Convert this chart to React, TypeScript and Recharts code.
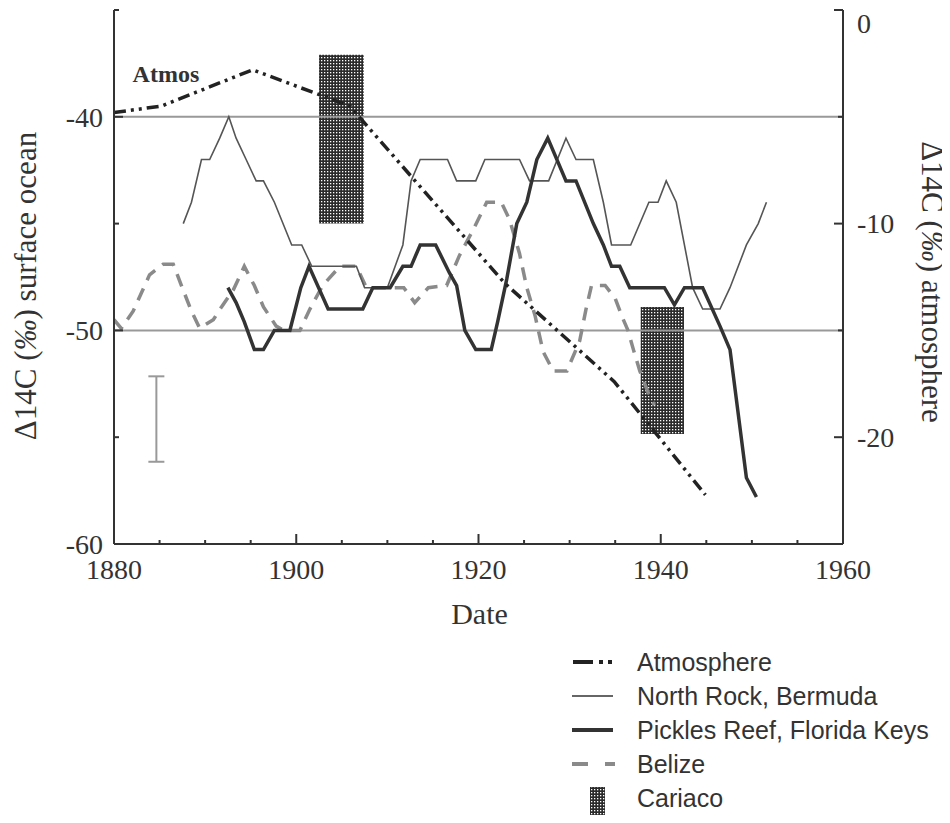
import React from 'react'
import {
  ComposedChart,
  Line,
  XAxis,
  YAxis,
  ReferenceArea,
  ReferenceLine,
  ReferenceDot,
  Scatter,
  ErrorBar,
} from 'recharts'

// atmosphere, plotted on the right axis (‰ atmosphere)
const atmosphere = [
  { year: 1880, v: -4.8 },
  { year: 1885.2, v: -4.5 },
  { year: 1895.2, v: -2.8 },
  { year: 1905.9, v: -4.5 },
  { year: 1907.1, v: -5.1 },
  { year: 1922.9, v: -12.8 },
  { year: 1934.9, v: -17.4 },
  { year: 1944.9, v: -22.7 },
]

const northRock = [
  { year: 1887.6, v: -45 }, { year: 1888.5, v: -44 }, { year: 1889.6, v: -42 },
  { year: 1890.5, v: -42 }, { year: 1891.6, v: -41 }, { year: 1892.6, v: -40 },
  { year: 1893.4, v: -41 }, { year: 1894.5, v: -42 }, { year: 1895.6, v: -43 },
  { year: 1896.4, v: -43 }, { year: 1897.6, v: -44 }, { year: 1899.5, v: -46 },
  { year: 1900.6, v: -46 }, { year: 1901.7, v: -47 }, { year: 1906.6, v: -47 },
  { year: 1907.5, v: -48 }, { year: 1910.0, v: -48 }, { year: 1911.7, v: -46 },
  { year: 1912.6, v: -43 }, { year: 1913.6, v: -42 }, { year: 1916.6, v: -42 },
  { year: 1917.6, v: -43 }, { year: 1919.7, v: -43 }, { year: 1920.7, v: -42 },
  { year: 1924.5, v: -42 }, { year: 1925.6, v: -43 }, { year: 1927.7, v: -43 },
  { year: 1929.6, v: -41 }, { year: 1930.7, v: -42 }, { year: 1932.6, v: -42 },
  { year: 1933.7, v: -44 }, { year: 1934.6, v: -46 }, { year: 1936.7, v: -46 },
  { year: 1938.7, v: -44 }, { year: 1939.7, v: -44 }, { year: 1940.6, v: -43 },
  { year: 1941.7, v: -44 }, { year: 1943.5, v: -48 }, { year: 1944.6, v: -49 },
  { year: 1946.5, v: -49 }, { year: 1947.6, v: -48 }, { year: 1949.4, v: -46 },
  { year: 1950.7, v: -45 }, { year: 1951.6, v: -44 },
]

const picklesReef = [
  { year: 1892.5, v: -48 }, { year: 1893.4, v: -48.7 }, { year: 1894.3, v: -49.6 },
  { year: 1895.4, v: -50.9 }, { year: 1896.4, v: -50.9 }, { year: 1897.6, v: -50 },
  { year: 1899.3, v: -50 }, { year: 1900.5, v: -48 }, { year: 1901.4, v: -47 },
  { year: 1903.5, v: -49 }, { year: 1907.3, v: -49 }, { year: 1908.4, v: -48 },
  { year: 1910.3, v: -48 }, { year: 1911.7, v: -47 }, { year: 1912.6, v: -47 },
  { year: 1913.6, v: -46 }, { year: 1915.3, v: -46 }, { year: 1916.8, v: -47.3 },
  { year: 1917.6, v: -47.9 }, { year: 1918.5, v: -50 }, { year: 1919.7, v: -50.9 },
  { year: 1921.4, v: -50.9 }, { year: 1922.1, v: -49.6 }, { year: 1923.1, v: -47.6 },
  { year: 1924.2, v: -45 }, { year: 1925.3, v: -44 }, { year: 1926.4, v: -42 },
  { year: 1927.6, v: -41 }, { year: 1929.6, v: -43 }, { year: 1930.7, v: -43 },
  { year: 1932.6, v: -45 }, { year: 1933.7, v: -46 }, { year: 1934.6, v: -47 },
  { year: 1935.5, v: -47 }, { year: 1936.6, v: -48 }, { year: 1940.4, v: -48 },
  { year: 1941.5, v: -48.8 }, { year: 1942.6, v: -48 }, { year: 1944.6, v: -48 },
  { year: 1946.5, v: -49.8 }, { year: 1947.6, v: -50.9 }, { year: 1949.4, v: -56.9 },
  { year: 1950.5, v: -57.8 },
]

const belize = [
  { year: 1880, v: -49.5 }, { year: 1880.8, v: -49.9 }, { year: 1882.1, v: -49.1 },
  { year: 1883.9, v: -47.4 }, { year: 1885.4, v: -46.9 }, { year: 1886.5, v: -46.9 },
  { year: 1887.4, v: -47.9 }, { year: 1888.5, v: -49.1 }, { year: 1889.4, v: -49.9 },
  { year: 1890.9, v: -49.5 }, { year: 1891.8, v: -48.9 }, { year: 1893.1, v: -48.1 },
  { year: 1894.3, v: -47 }, { year: 1895.4, v: -47.9 }, { year: 1896.4, v: -48.9 },
  { year: 1897.8, v: -49.8 }, { year: 1898.6, v: -50 }, { year: 1900.4, v: -50 },
  { year: 1901.5, v: -49 }, { year: 1902.9, v: -47.9 }, { year: 1904.8, v: -47 },
  { year: 1906.6, v: -47 }, { year: 1907.7, v: -48 }, { year: 1911.8, v: -48 },
  { year: 1913.0, v: -48.7 }, { year: 1914.5, v: -48 }, { year: 1916.5, v: -47.9 },
  { year: 1917.9, v: -46.5 }, { year: 1919.4, v: -45.3 }, { year: 1920.9, v: -44 },
  { year: 1922.5, v: -44 }, { year: 1923.4, v: -44.8 }, { year: 1924.5, v: -46.4 },
  { year: 1925.3, v: -48 }, { year: 1926.2, v: -49.3 }, { year: 1927.1, v: -51 },
  { year: 1928.2, v: -51.9 }, { year: 1929.7, v: -51.9 }, { year: 1931.1, v: -50.5 },
  { year: 1931.8, v: -49 }, { year: 1932.4, v: -47.9 }, { year: 1933.9, v: -47.9 },
  { year: 1935.0, v: -48.5 }, { year: 1935.7, v: -49.3 }, { year: 1936.4, v: -50 },
  { year: 1937.0, v: -50.9 }, { year: 1937.7, v: -51.9 }, { year: 1938.6, v: -52.9 },
  { year: 1939.3, v: -53.5 },
]

// Cariaco age ranges (year span, ocean value span)
const cariaco = [
  { x1: 1902.5, x2: 1907.4, y1: -45.0, y2: -37.1 },
  { x1: 1937.8, x2: 1942.55, y1: -54.85, y2: -48.9 },
]

const errorBarData = [{ year: 1884.65, v: -54.15, err: 2.0 }]

const xTicks = [1880, 1885, 1890, 1895, 1900, 1905, 1910, 1915, 1920, 1925, 1930, 1935, 1940, 1945, 1950, 1955, 1960]
const leftTicks = [-60, -55, -50, -45, -40, -35]
const rightTicks = [-25, -20, -15, -10, -5, 0]
const gridValues = [-40, -50]

const legendItems = ['Atmosphere', 'North Rock, Bermuda', 'Pickles Reef, Florida Keys', 'Belize', 'Cariaco']

const SERIF = '"Liberation Serif", "Times New Roman", serif'
const SANS = '"Liberation Sans", Arial, sans-serif'
const AXIS = '#333'
const ATMOS_DASH = '12 5 3 5 3 5'
const TICK_FONT = 28
const TITLE_FONT = 31

function BottomTick({ x, y, payload }: any) {
  const v = payload.value
  const major = v % 20 === 0
  return (
    <g>
      <line x1={x} x2={x} y1={y} y2={y - (major ? 10 : 4)} stroke={AXIS} strokeWidth={2} />
      {major && (
        <text x={x} y={y + 35} textAnchor="middle" fontFamily={SERIF} fontSize={TICK_FONT} fill="#333">
          {v}
        </text>
      )}
    </g>
  )
}

function TopTick({ x, y, payload }: any) {
  const major = payload.value % 20 === 0
  return <line x1={x} x2={x} y1={y} y2={y + (major ? 10 : 4)} stroke={AXIS} strokeWidth={2} />
}

function LeftTick({ x, y, payload }: any) {
  const v = payload.value
  const major = v % 10 === 0
  return (
    <g>
      <line x1={x} x2={x + (major ? 9 : 5)} y1={y} y2={y} stroke={AXIS} strokeWidth={2} />
      {major && (
        <text x={x - 11} y={y} dy="0.35em" textAnchor="end" fontFamily={SERIF} fontSize={TICK_FONT} fill="#333">
          {v}
        </text>
      )}
    </g>
  )
}

function RightTick({ x, y, payload }: any) {
  const v = payload.value
  const major = v % 10 === 0
  return (
    <g>
      <line x1={x} x2={x - (major ? 9 : 5)} y1={y} y2={y} stroke={AXIS} strokeWidth={2} />
      {major && (
        <text x={x + 14} y={v === 0 ? y + 13 : y} dy="0.35em" textAnchor="start" fontFamily={SERIF} fontSize={TICK_FONT} fill="#333">
          {v}
        </text>
      )}
    </g>
  )
}

function Legend() {
  const rowY = (i: number) => 654 + i * 34
  return (
    <svg width={400} height={170} style={{ position: 'absolute', left: 540, top: 640 }} viewBox="540 640 400 170">
      <line x1={565} x2={585} y1={rowY(0)} y2={rowY(0)} stroke="#222" strokeWidth={4} />
      <rect x={591} y={rowY(0) - 2} width={4} height={4} fill="#222" />
      <rect x={600} y={rowY(0) - 2} width={4} height={4} fill="#222" />
      <line x1={564} x2={605} y1={rowY(1)} y2={rowY(1)} stroke="#666" strokeWidth={2} />
      <line x1={564} x2={605} y1={rowY(2)} y2={rowY(2)} stroke="#333" strokeWidth={4} />
      <line x1={564} x2={580} y1={rowY(3)} y2={rowY(3)} stroke="#8a8a8a" strokeWidth={4} />
      <line x1={597} x2={607} y1={rowY(3)} y2={rowY(3)} stroke="#8a8a8a" strokeWidth={4} />
      <rect x={582} y={779} width={15} height={30} fill="url(#cariacoFill)" />
      {legendItems.map((label, i) => (
        <text key={label} x={629} y={rowY(i)} dy="0.35em" fontFamily={SANS} fontSize={25} fill="#333">
          {label}
        </text>
      ))}
    </svg>
  )
}

export default function App() {
  return (
    <div style={{ position: 'relative', width: 942, height: 807 }}>
      <svg width={0} height={0} style={{ position: 'absolute' }}>
        <defs>
          <pattern id="cariacoFill" patternUnits="userSpaceOnUse" width={3} height={3}>
            <rect width={3} height={3} fill="#2b2b2b" />
            <rect x={1} y={1} width={1.3} height={1.3} fill="#ffffff" />
          </pattern>
        </defs>
      </svg>
      <ComposedChart width={942} height={640} margin={{ top: 2, right: 0, bottom: 0, left: 0 }}>
        <XAxis
          dataKey="year"
          type="number"
          domain={[1880, 1960]}
          ticks={xTicks}
          allowDataOverflow
          height={104}
          tickSize={0}
          tickMargin={0}
          tick={<BottomTick />}
          tickLine={false}
          axisLine={{ stroke: AXIS, strokeWidth: 2 }}
          interval={0}
          label={{
            content: ({ viewBox }: any) => (
              <text
                x={viewBox.x + viewBox.width / 2 + 1}
                y={viewBox.y + 80}
                textAnchor="middle"
                fontFamily={SERIF}
                fontSize={30}
                fill="#333"
              >
                Date
              </text>
            ),
          }}
        />
        <XAxis
          xAxisId="top"
          orientation="top"
          type="number"
          domain={[1880, 1960]}
          ticks={xTicks}
          height={0}
          tickSize={0}
          tickMargin={0}
          tick={<TopTick />}
          tickLine={false}
          axisLine={{ stroke: AXIS, strokeWidth: 2 }}
          interval={0}
        />
        <YAxis
          yAxisId="left"
          type="number"
          domain={[-60, -35]}
          ticks={leftTicks}
          allowDataOverflow
          width={106}
          tickSize={0}
          tickMargin={0}
          tick={<LeftTick />}
          tickLine={false}
          axisLine={{ stroke: AXIS, strokeWidth: 2 }}
          interval={0}
          label={{
            content: ({ viewBox }: any) => {
              const cx = 28
              const cy = viewBox.y + viewBox.height / 2 + 9
              return (
                <text
                  x={cx}
                  y={cy}
                  transform={`rotate(-90 ${cx} ${cy})`}
                  textAnchor="middle"
                  fontFamily={SERIF}
                  fontSize={TITLE_FONT}
                  fill="#333"
                >
                  Δ14C (<tspan fontStyle="italic">‰</tspan>) surface ocean
                </text>
              )
            },
          }}
        />
        <YAxis
          yAxisId="right"
          orientation="right"
          type="number"
          domain={[-25, 0]}
          ticks={rightTicks}
          allowDataOverflow
          width={107}
          tickSize={0}
          tickMargin={0}
          tick={<RightTick />}
          tickLine={false}
          axisLine={{ stroke: AXIS, strokeWidth: 2 }}
          interval={0}
          label={{
            content: ({ viewBox }: any) => {
              const cx = 914
              const cy = viewBox.y + viewBox.height / 2 + 5
              return (
                <text
                  x={cx}
                  y={cy}
                  transform={`rotate(90 ${cx} ${cy})`}
                  textAnchor="middle"
                  fontFamily={SERIF}
                  fontSize={TITLE_FONT}
                  fill="#333"
                >
                  Δ14C (<tspan fontStyle="italic">‰</tspan>) atmosphere
                </text>
              )
            },
          }}
        />

        {cariaco.map((c, i) => (
          <ReferenceArea
            key={i}
            yAxisId="left"
            x1={c.x1}
            x2={c.x2}
            y1={c.y1}
            y2={c.y2}
            fill="url(#cariacoFill)"
            fillOpacity={1}
            stroke="none"
            zIndex={50}
          />
        ))}
        {gridValues.map((g) => (
          <ReferenceLine key={g} yAxisId="left" y={g} stroke="#999" strokeWidth={2} zIndex={60} />
        ))}

        <Scatter
          yAxisId="left"
          data={errorBarData}
          dataKey="v"
          shape={() => <g />}
          isAnimationActive={false}
        >
          <ErrorBar dataKey="err" direction="y" width={8} stroke="#999" strokeWidth={2} isAnimationActive={false} />
        </Scatter>

        <Line
          yAxisId="left"
          data={belize}
          dataKey="v"
          type="linear"
          stroke="#8a8a8a"
          strokeWidth={3.5}
          strokeDasharray="13 9"
          dot={false}
          activeDot={false}
          isAnimationActive={false}
        />
        <Line
          yAxisId="left"
          data={northRock}
          dataKey="v"
          type="linear"
          stroke="#555"
          strokeWidth={1.6}
          dot={false}
          activeDot={false}
          isAnimationActive={false}
        />
        <Line
          yAxisId="left"
          data={picklesReef}
          dataKey="v"
          type="linear"
          stroke="#333"
          strokeWidth={3.5}
          dot={false}
          activeDot={false}
          isAnimationActive={false}
        />
        <Line
          yAxisId="right"
          data={atmosphere}
          dataKey="v"
          type="linear"
          stroke="#222"
          strokeWidth={3.5}
          strokeDasharray={ATMOS_DASH}
          dot={false}
          activeDot={false}
          isAnimationActive={false}
        />

        <ReferenceDot
          yAxisId="left"
          x={1885.7}
          y={-38}
          r={0}
          fill="none"
          stroke="none"
          label={{
            content: ({ viewBox }: any) => (
              <text
                x={viewBox.x + viewBox.width / 2}
                y={viewBox.y + viewBox.height / 2}
                dy="0.35em"
                textAnchor="middle"
                fontFamily={SERIF}
                fontWeight="bold"
                fontSize={24}
                fill="#333"
              >
                Atmos
              </text>
            ),
          }}
        />
      </ComposedChart>
      <Legend />
    </div>
  )
}
